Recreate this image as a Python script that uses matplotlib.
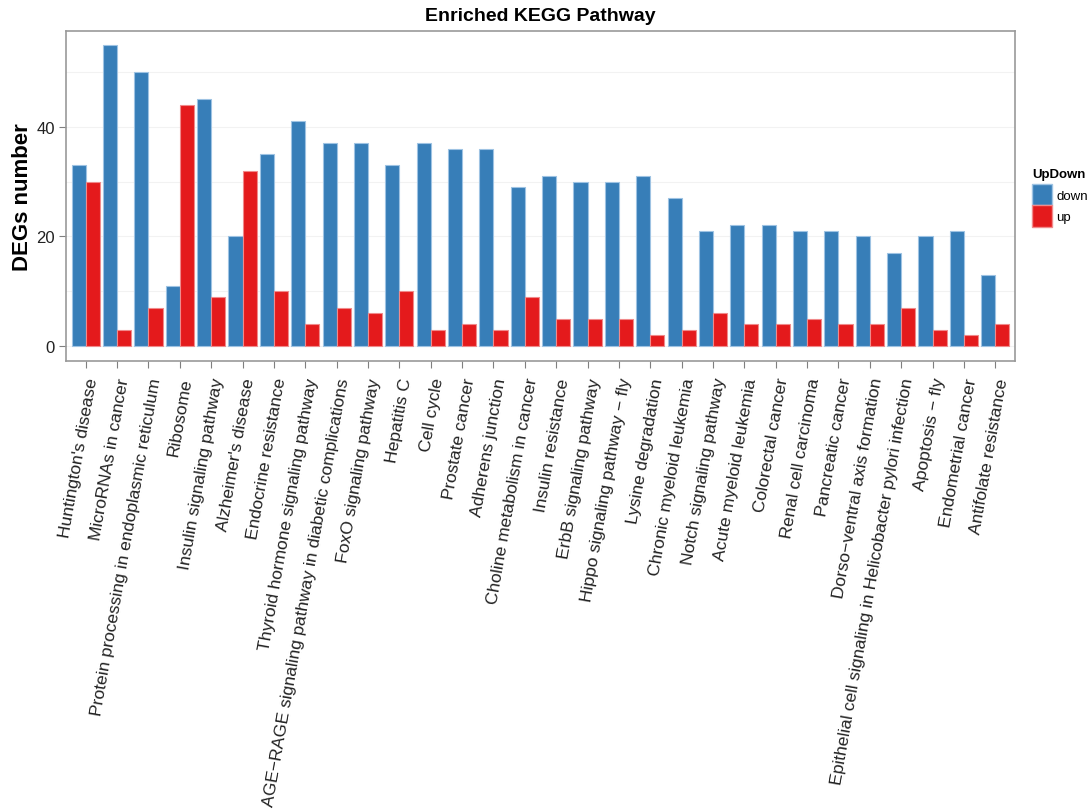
import matplotlib
matplotlib.use("Agg")
import matplotlib.pyplot as plt
import numpy as np
from matplotlib.patches import Patch

plt.rcParams['font.family'] = ['Liberation Sans', 'DejaVu Sans']

pathways = [
    "Huntington's disease", "MicroRNAs in cancer",
    "Protein processing in endoplasmic reticulum", "Ribosome",
    "Insulin signaling pathway", "Alzheimer's disease", "Endocrine resistance",
    "Thyroid hormone signaling pathway",
    "AGE\u2212RAGE signaling pathway in diabetic complications",
    "FoxO signaling pathway", "Hepatitis C", "Cell cycle", "Prostate cancer",
    "Adherens junction", "Choline metabolism in cancer", "Insulin resistance",
    "ErbB signaling pathway", "Hippo signaling pathway \u2212 fly",
    "Lysine degradation", "Chronic myeloid leukemia", "Notch signaling pathway",
    "Acute myeloid leukemia", "Colorectal cancer", "Renal cell carcinoma",
    "Pancreatic cancer", "Dorso\u2212ventral axis formation",
    "Epithelial cell signaling in Helicobacter pylori infection",
    "Apoptosis \u2212 fly", "Endometrial cancer", "Antifolate resistance",
]
down = [33, 55, 50, 11, 45, 20, 35, 41, 37, 37, 33, 37, 36, 36, 29, 31, 30, 30,
        31, 27, 21, 22, 22, 21, 21, 20, 17, 20, 21, 13]
up = [30, 3, 7, 44, 9, 32, 10, 4, 7, 6, 10, 3, 4, 3, 9, 5, 5, 5, 2, 3, 6, 4, 4,
      5, 4, 4, 7, 3, 2, 4]
y_ticks = [0, 20, 40]

c_down = "#377EB8"
c_up = "#E41A1C"

fig = plt.figure(figsize=(10.89, 8.12), dpi=100)
ax = fig.add_axes([66/1089, 1-362/812, (1015-66)/1089, (362-32)/812])

x = np.arange(len(pathways))
w = 0.45
ax.bar(x - w/2, down, width=w, color=c_down, edgecolor="#9ec3e3", linewidth=0.8, zorder=3)
ax.bar(x + w/2, up, width=w, color=c_up, edgecolor="#f08a8b", linewidth=0.8, zorder=3)

ax.set_xlim(-0.63, len(pathways) - 0.37)
ax.set_ylim(-2.75, 57.5)
ax.set_yticks(y_ticks)
ax.set_yticks([10, 30, 50], minor=True)
ax.grid(True, which='both', axis='y', color="#f2f2f2", linewidth=0.8, zorder=0)
ax.tick_params(axis='y', which='minor', length=0)
ax.set_xticks(x)
ax.set_xticklabels(pathways, rotation=80, ha='right', va='top',
                   rotation_mode='anchor', fontsize=12.6)
ax.tick_params(axis='both', colors="#7f7f7f", length=5, width=0.8, labelcolor="#222222")
ax.tick_params(axis='x', pad=6)
ax.tick_params(axis='y', labelsize=12, pad=3)
for s in ax.spines.values():
    s.set_color("#999999")
    s.set_linewidth(1.2)

ax.set_ylabel("DEGs number", fontsize=16, fontweight='bold')
ax.yaxis.set_label_coords(-(66-33)/(1015-66), 0.5)
ax.set_title("Enriched KEGG Pathway", fontsize=14, fontweight='bold', pad=8)

handles = [Patch(facecolor=c_down, edgecolor="#9ec3e3", label="down"),
           Patch(facecolor=c_up, edgecolor="#f08a8b", label="up")]
leg = fig.legend(handles=handles, title="UpDown", loc='upper left',
                 bbox_to_anchor=(1032/1089, 1-169/812), frameon=False,
                 fontsize=9.5, title_fontproperties={'weight': 'bold', 'size': 9.5},
                 handlelength=1.55, handleheight=2.1, handletextpad=0.3,
                 labelspacing=0.0, borderaxespad=0, borderpad=0)
leg._legend_box.align = "left"
leg._legend_box.sep = 3

fig.savefig("out.png", dpi=100)
